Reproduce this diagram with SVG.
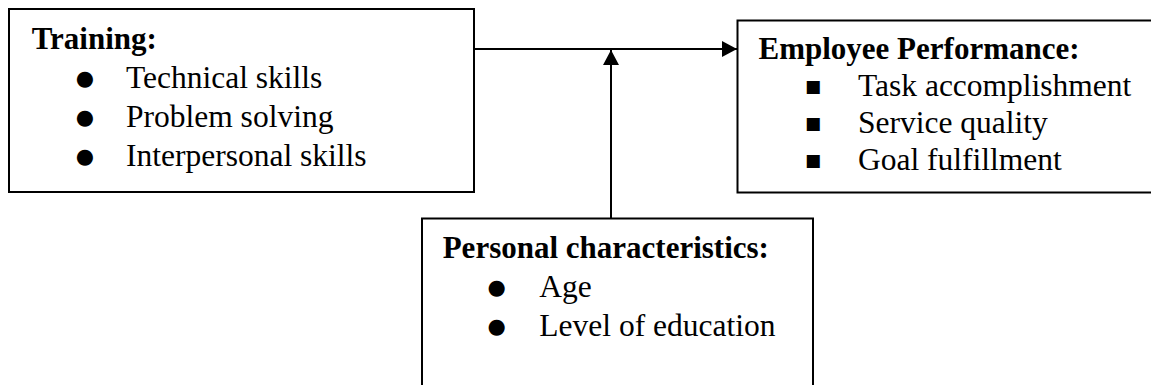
<svg xmlns="http://www.w3.org/2000/svg" width="1151" height="385" viewBox="0 0 1151 385">
<defs>
<style>
.box{fill:#fff;stroke:#000;stroke-width:2}
.h{font-family:"Liberation Serif","Times New Roman",serif;font-weight:bold;font-size:31px;fill:#000}
.t{font-family:"Liberation Serif","Times New Roman",serif;font-size:31.5px;fill:#000}
.b{font-family:"DejaVu Sans",sans-serif;font-size:21px;fill:#000;text-anchor:middle}
.sq{font-family:"DejaVu Sans",sans-serif;font-size:17px;fill:#000;text-anchor:middle}
.ln{stroke:#000;stroke-width:2;fill:none}
</style>
<marker id="arr" markerUnits="userSpaceOnUse" markerWidth="16" markerHeight="17" viewBox="0 0 16 17" refX="15" refY="8.5" orient="auto">
<path d="M0,0.5 L15,8.5 L0,16.5 Z" fill="#000"/>
</marker>
</defs>
<g id="connectors">
<line class="ln" x1="474" y1="49" x2="737" y2="49" marker-end="url(#arr)"/>
<line class="ln" x1="611" y1="218" x2="611" y2="50" marker-end="url(#arr)"/>
</g>
<g id="training">
<rect class="box" x="9" y="9" width="465" height="183"/>
<text class="h" x="31.7" y="48.5">Training:</text>
<text class="b" x="85" y="85">●</text>
<text class="t" x="126" y="88">Technical skills</text>
<text class="b" x="85" y="124">●</text>
<text class="t" x="126" y="127">Problem solving</text>
<text class="b" x="85" y="162.5">●</text>
<text class="t" x="126" y="165.5">Interpersonal skills</text>
</g>
<g id="performance">
<rect class="box" x="737.5" y="20.5" width="420" height="172"/>
<text class="h" x="758.5" y="59">Employee Performance:</text>
<text class="sq" x="813" y="92">■</text>
<text class="t" x="858" y="96">Task accomplishment</text>
<text class="sq" x="813" y="129">■</text>
<text class="t" x="858" y="133">Service quality</text>
<text class="sq" x="813" y="166">■</text>
<text class="t" x="858" y="170">Goal fulfillment</text>
</g>
<g id="personal">
<rect class="box" x="422" y="218.5" width="391" height="180"/>
<text class="h" x="442.7" y="257.5">Personal characteristics:</text>
<text class="b" x="496.7" y="293.5">●</text>
<text class="t" x="539.3" y="296.5">Age</text>
<text class="b" x="496.7" y="333">●</text>
<text class="t" x="539.3" y="336">Level of education</text>
</g>
</svg>
